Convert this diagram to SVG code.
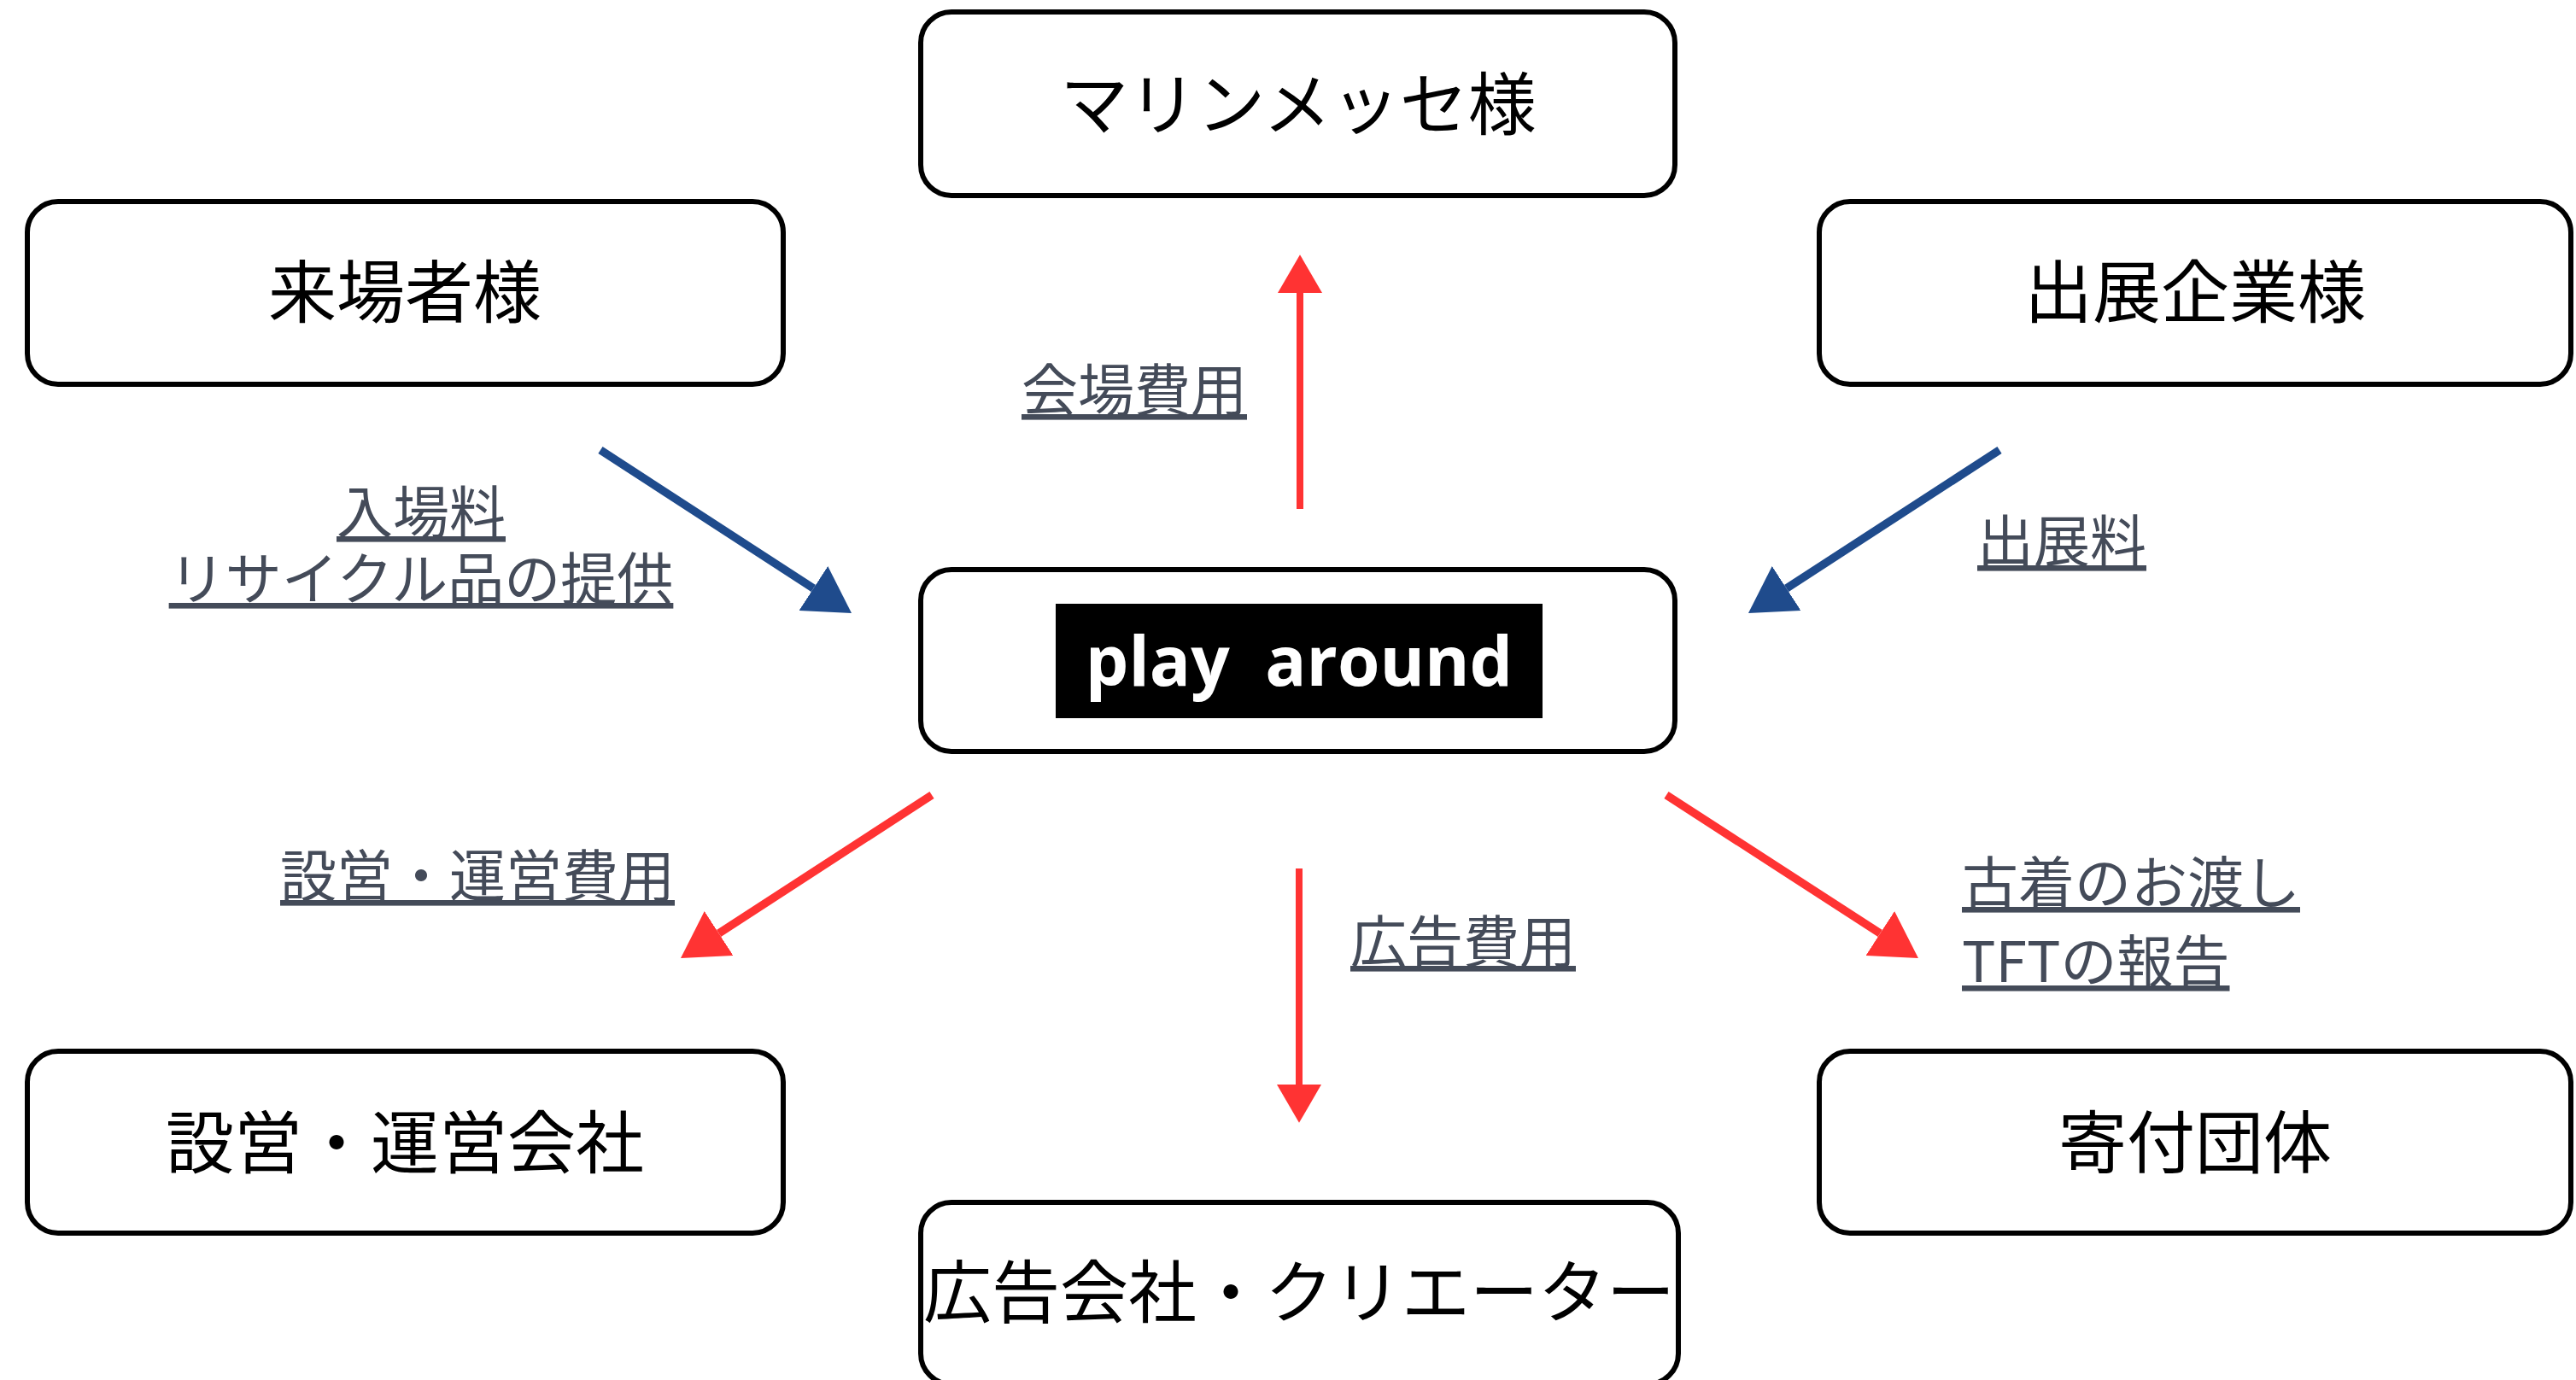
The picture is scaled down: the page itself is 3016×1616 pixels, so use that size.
<svg xmlns="http://www.w3.org/2000/svg" width="3016" height="1616" viewBox="0 0 3016 1616">
  <style>
    .box { fill: #ffffff; stroke: #000000; stroke-width: 6; }
    .ntext { font-family: "Noto Sans CJK JP", "Noto Sans", sans-serif; font-size: 80px; fill: #000000; text-anchor: middle; }
    .lbl { font-family: "Noto Sans CJK JP", "Noto Sans", sans-serif; font-size: 66px; fill: #444B59; text-decoration: underline; }
    .red { stroke: #FF3333; fill: none; }
    .blue { stroke: #1F4B8C; fill: none; }
    .v { stroke-width: 8; }
    .d { stroke-width: 9.5; }
  </style>
  <defs>
    <marker id="ahRed" viewBox="0 0 5.6 6.5" refX="0" refY="3.25" markerWidth="5.6" markerHeight="6.5" markerUnits="strokeWidth" orient="auto">
      <path d="M0,0 L5.6,3.25 L0,6.5 Z" fill="#FF3333"/>
    </marker>
    <marker id="ahBlue" viewBox="0 0 5.6 6.5" refX="0" refY="3.25" markerWidth="5.6" markerHeight="6.5" markerUnits="strokeWidth" orient="auto">
      <path d="M0,0 L5.6,3.25 L0,6.5 Z" fill="#1F4B8C"/>
    </marker>
  </defs>
  <rect width="3016" height="1616" fill="#ffffff"/>

  <g id="connectors">
    <line class="red v" x1="1522" y1="596" x2="1522" y2="343" marker-end="url(#ahRed)"/>
    <line class="red v" x1="1521" y1="1017" x2="1521" y2="1270" marker-end="url(#ahRed)"/>
    <line class="red d" x1="1091" y1="931" x2="841.6" y2="1093" marker-end="url(#ahRed)"/>
    <line class="red d" x1="1951" y1="931" x2="2201.3" y2="1093" marker-end="url(#ahRed)"/>
    <line class="blue d" x1="703" y1="527" x2="952.4" y2="689" marker-end="url(#ahBlue)"/>
    <line class="blue d" x1="2341" y1="527" x2="2091.6" y2="689" marker-end="url(#ahBlue)"/>
  </g>

  <g id="labels">
    <text class="lbl" x="1196" y="481">会場費用</text>
    <text class="lbl" text-anchor="middle"><tspan x="493" y="624">入場料</tspan><tspan x="493" y="702">リサイクル品の提供</tspan></text>
    <text class="lbl" x="2315" y="658">出展料</text>
    <text class="lbl" x="328" y="1050">設営・運営費用</text>
    <text class="lbl" x="1581" y="1127">広告費用</text>
    <text class="lbl"><tspan x="2297" y="1058">古着のお渡し</tspan><tspan x="2297" y="1150">TFTの報告</tspan></text>
  </g>

  <g id="node-marinemesse">
    <rect class="box" x="1078" y="14" width="883" height="215" rx="36" ry="36"/>
    <text class="ntext" x="1520" y="151">マリンメッセ様</text>
  </g>
  <g id="node-visitors">
    <rect class="box" x="32" y="236" width="885" height="214" rx="36" ry="36"/>
    <text class="ntext" x="474" y="371">来場者様</text>
  </g>
  <g id="node-exhibitors">
    <rect class="box" x="2130" y="236" width="880" height="214" rx="36" ry="36"/>
    <text class="ntext" x="2570" y="371">出展企業様</text>
  </g>
  <g id="node-playaround">
    <rect class="box" x="1078" y="667" width="883" height="213" rx="36" ry="36"/>
    <rect x="1236" y="707" width="570" height="134" fill="#000000"/>
    <text x="1521" y="803" text-anchor="middle" font-family="'Open Sans', 'Noto Sans', sans-serif" font-weight="bold" font-size="80" fill="#ffffff" xml:space="preserve">play  around</text>
  </g>
  <g id="node-setup">
    <rect class="box" x="32" y="1231" width="885" height="213" rx="36" ry="36"/>
    <text class="ntext" x="474" y="1367">設営・運営会社</text>
  </g>
  <g id="node-donation">
    <rect class="box" x="2130" y="1231" width="880" height="213" rx="36" ry="36"/>
    <text class="ntext" x="2570" y="1367">寄付団体</text>
  </g>
  <g id="node-ad">
    <rect class="box" x="1078" y="1408" width="887" height="213" rx="36" ry="36"/>
    <text class="ntext" x="1521" y="1542">広告会社・クリエーター</text>
  </g>
</svg>
